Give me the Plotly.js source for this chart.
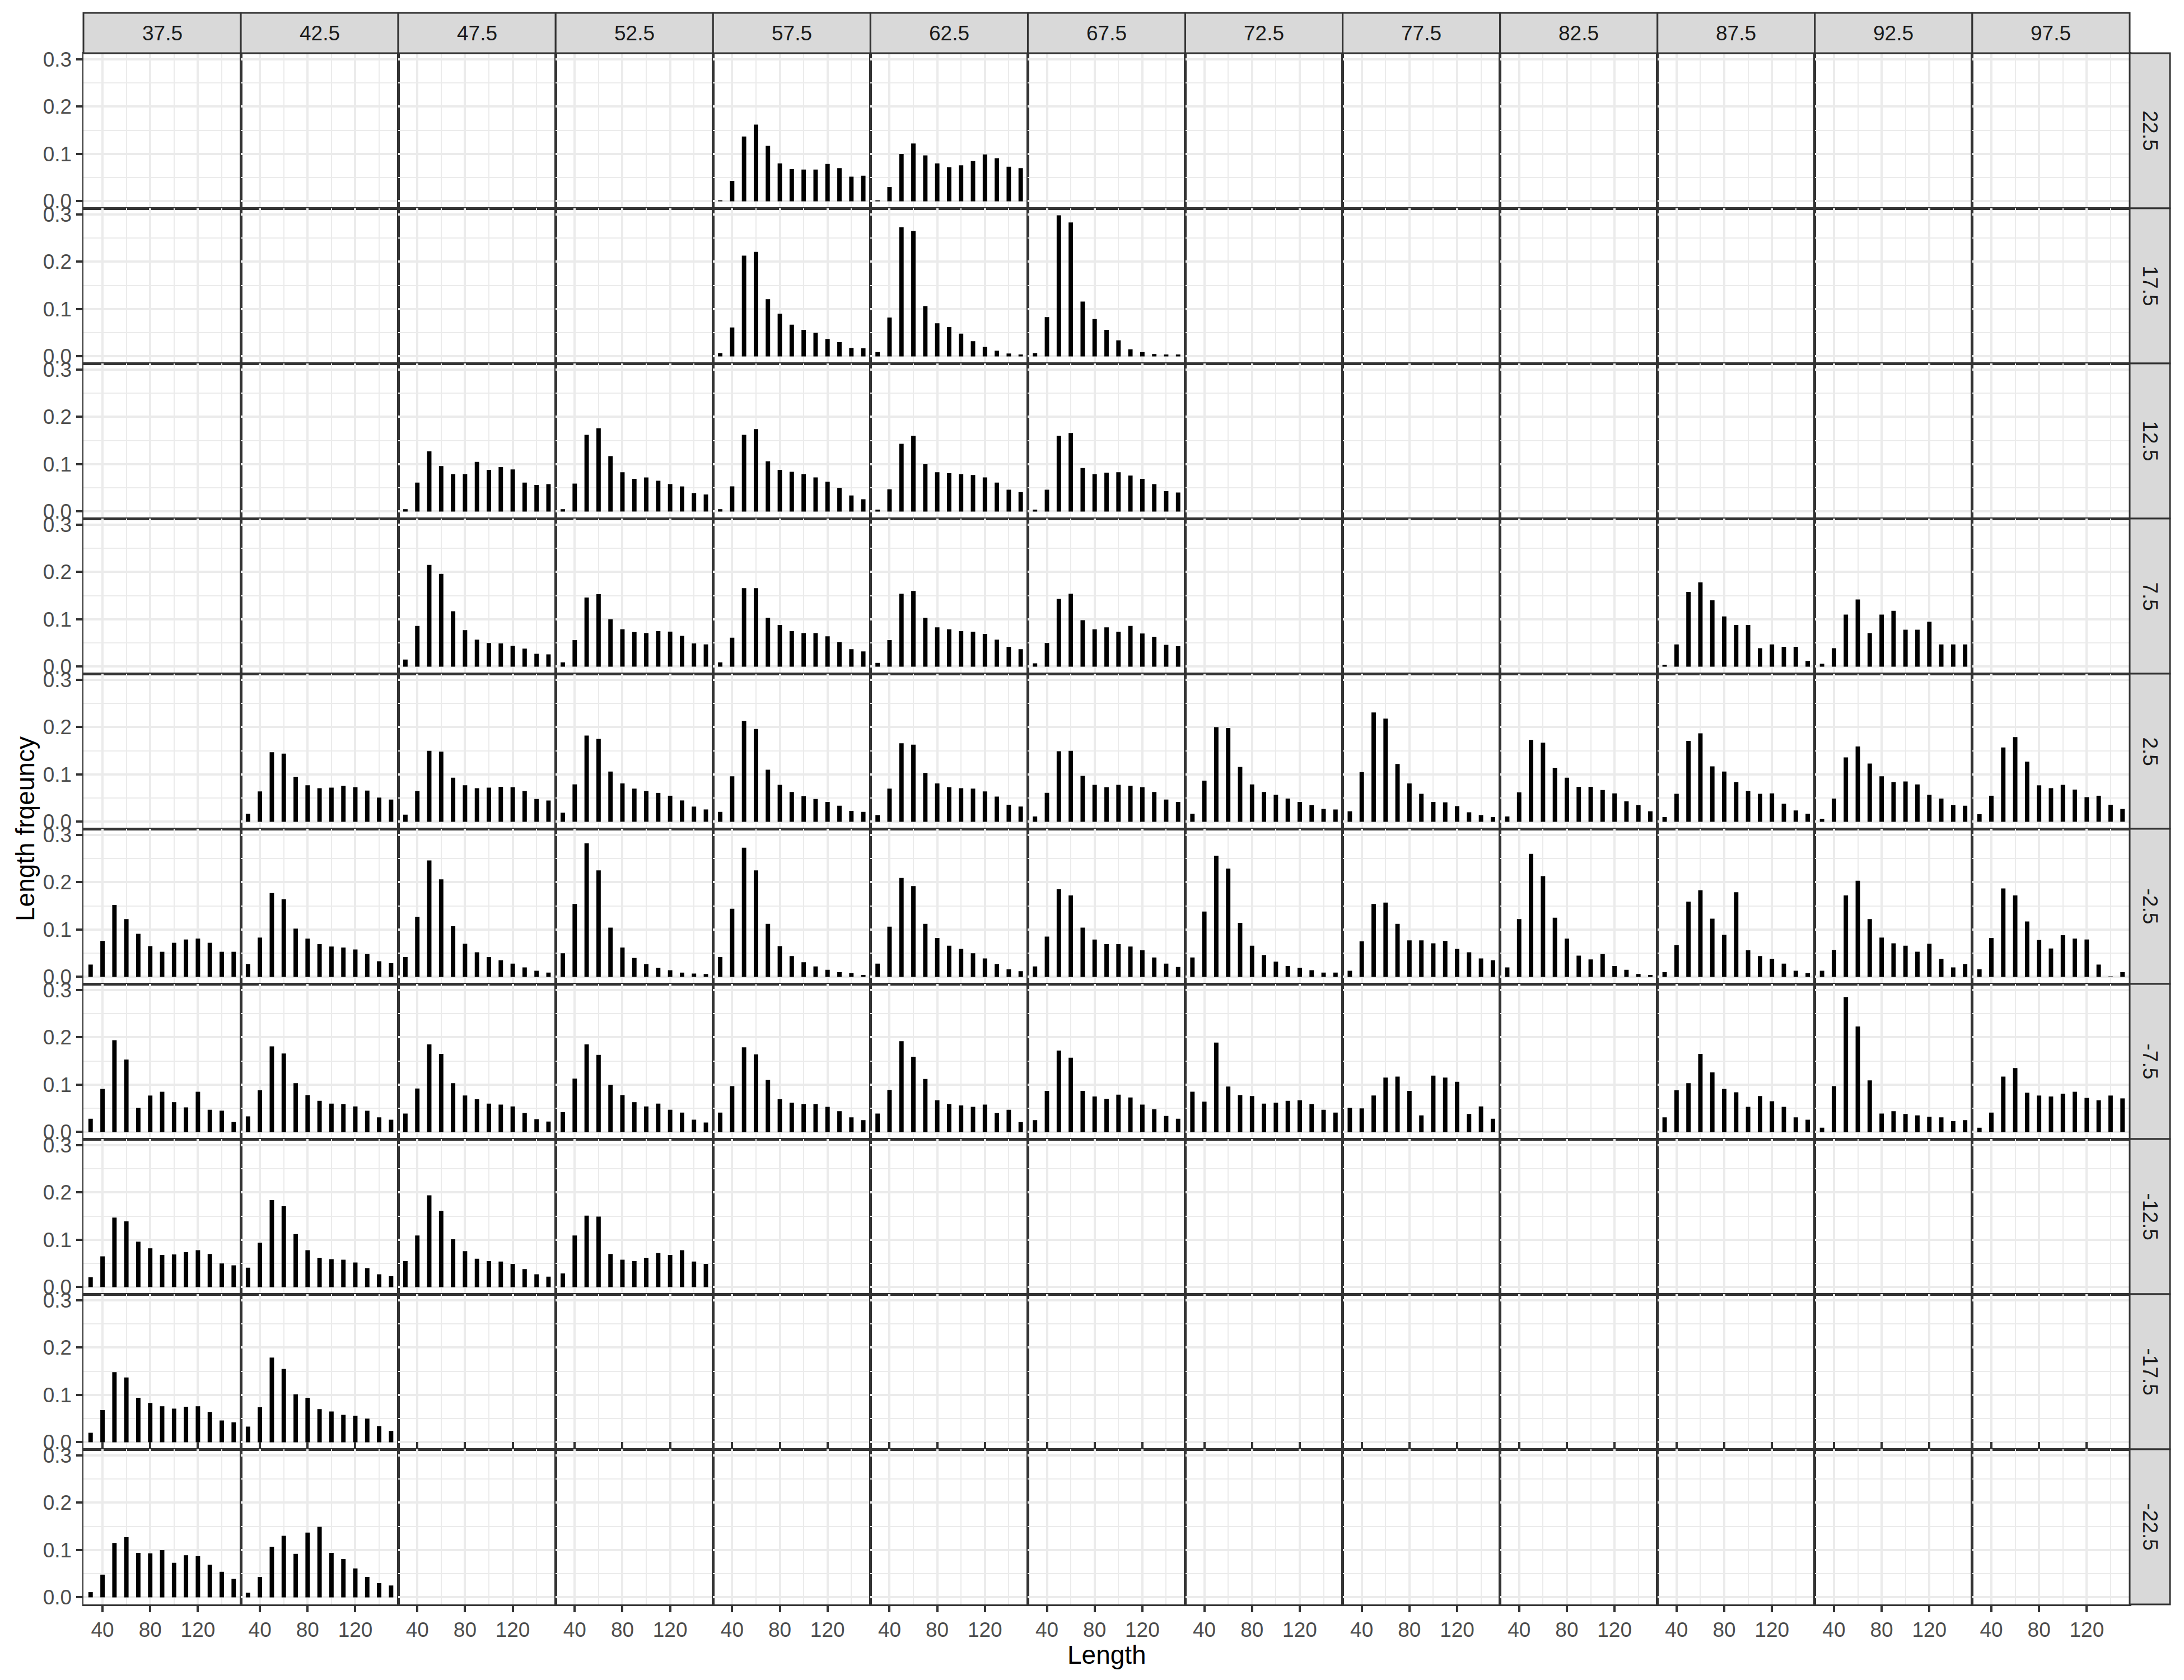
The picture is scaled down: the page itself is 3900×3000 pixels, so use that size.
<!DOCTYPE html>
<html>
<head>
<meta charset="utf-8">
<script src="https://cdn.plot.ly/plotly-3.0.1.min.js"></script>
<style>
html,body{margin:0;padding:0;background:#ffffff;}
#chart{width:3900px;height:3000px;}
</style>
</head>
<body>
<div id="chart"></div>
<script>
// ---------------- data ----------------
const lengths = [30, 40, 50, 60, 70, 80, 90, 100, 110, 120, 130, 140, 150];
const lonLabels = ["37.5","42.5","47.5","52.5","57.5","62.5","67.5","72.5","77.5","82.5","87.5","92.5","97.5"];
const latLabels = ["22.5","17.5","12.5","7.5","2.5","-2.5","-7.5","-12.5","-17.5","-22.5"];
const xTickVals = [40, 80, 120];
const yTickVals = [0, 0.1, 0.2, 0.3];

const lat22_5_lon = ["57.5","62.5"];
const lat22_5_freq = [
  [0.002,0.043,0.137,0.162,0.117,0.080,0.068,0.067,0.067,0.079,0.070,0.052,0.054],
  [0.002,0.030,0.100,0.122,0.097,0.080,0.072,0.076,0.085,0.099,0.091,0.073,0.070]
];

const lat17_5_lon = ["57.5","62.5","67.5"];
const lat17_5_freq = [
  [0.007,0.061,0.213,0.221,0.121,0.090,0.067,0.056,0.050,0.037,0.030,0.018,0.017],
  [0.009,0.082,0.273,0.265,0.106,0.070,0.062,0.048,0.032,0.020,0.012,0.006,0.004],
  [0.007,0.083,0.298,0.283,0.116,0.079,0.056,0.034,0.015,0.009,0.005,0.004,0.004]
];

const lat12_5_lon = ["47.5","52.5","57.5","62.5","67.5"];
const lat12_5_freq = [
  [0.005,0.061,0.127,0.096,0.079,0.079,0.105,0.088,0.094,0.089,0.061,0.056,0.058],
  [0.005,0.059,0.162,0.176,0.117,0.083,0.069,0.072,0.065,0.058,0.053,0.039,0.036],
  [0.005,0.053,0.162,0.174,0.106,0.088,0.084,0.079,0.072,0.063,0.050,0.034,0.026],
  [0.004,0.047,0.143,0.160,0.100,0.083,0.081,0.079,0.077,0.072,0.061,0.046,0.041],
  [0.004,0.046,0.160,0.166,0.092,0.079,0.082,0.083,0.076,0.069,0.058,0.043,0.040]
];

const lat7_5_lon = ["47.5","52.5","57.5","62.5","67.5","87.5","92.5"];
const lat7_5_freq = [
  [0.015,0.086,0.215,0.196,0.117,0.077,0.057,0.050,0.049,0.044,0.038,0.027,0.026],
  [0.009,0.056,0.146,0.153,0.100,0.079,0.073,0.071,0.075,0.074,0.065,0.049,0.047],
  [0.009,0.061,0.166,0.166,0.103,0.088,0.075,0.071,0.071,0.064,0.052,0.037,0.032],
  [0.008,0.056,0.154,0.160,0.103,0.083,0.079,0.075,0.074,0.069,0.057,0.042,0.037],
  [0.007,0.050,0.143,0.154,0.098,0.079,0.083,0.074,0.086,0.070,0.063,0.046,0.043],
  [0.004,0.047,0.158,0.178,0.140,0.106,0.088,0.088,0.039,0.047,0.042,0.042,0.012],
  [0.006,0.039,0.110,0.142,0.071,0.110,0.118,0.078,0.078,0.095,0.047,0.047,0.047]
];

const lat2_5_lon = ["42.5","47.5","52.5","57.5","62.5","67.5","72.5","77.5","82.5","87.5","92.5","97.5"];
const lat2_5_freq = [
  [0.017,0.064,0.147,0.144,0.095,0.077,0.071,0.072,0.076,0.073,0.066,0.051,0.047],
  [0.015,0.065,0.150,0.148,0.093,0.077,0.071,0.072,0.074,0.073,0.065,0.048,0.045],
  [0.019,0.079,0.182,0.175,0.106,0.081,0.070,0.065,0.061,0.055,0.045,0.032,0.026],
  [0.021,0.096,0.213,0.196,0.110,0.078,0.063,0.054,0.048,0.042,0.034,0.023,0.021],
  [0.014,0.070,0.166,0.163,0.103,0.081,0.073,0.071,0.070,0.064,0.053,0.036,0.032],
  [0.011,0.061,0.149,0.150,0.097,0.078,0.073,0.078,0.076,0.073,0.063,0.047,0.042],
  [0.017,0.087,0.200,0.198,0.116,0.079,0.063,0.057,0.049,0.042,0.035,0.027,0.026],
  [0.022,0.105,0.231,0.218,0.122,0.081,0.059,0.042,0.041,0.033,0.020,0.014,0.010],
  [0.011,0.062,0.173,0.167,0.114,0.093,0.074,0.074,0.067,0.060,0.043,0.035,0.022],
  [0.010,0.059,0.171,0.187,0.117,0.106,0.084,0.065,0.059,0.060,0.038,0.024,0.017],
  [0.006,0.049,0.136,0.159,0.123,0.096,0.084,0.085,0.079,0.057,0.049,0.035,0.034],
  [0.016,0.055,0.157,0.179,0.127,0.077,0.071,0.078,0.068,0.052,0.055,0.036,0.027]
];

const latm2_5_lon = ["37.5","42.5","47.5","52.5","57.5","62.5","67.5","72.5","77.5","82.5","87.5","92.5","97.5"];
const latm2_5_freq = [
  [0.026,0.076,0.152,0.122,0.091,0.065,0.053,0.072,0.079,0.081,0.072,0.053,0.053],
  [0.027,0.083,0.177,0.164,0.102,0.081,0.069,0.064,0.062,0.058,0.048,0.033,0.029],
  [0.042,0.127,0.246,0.206,0.107,0.070,0.052,0.042,0.035,0.028,0.020,0.013,0.009],
  [0.050,0.154,0.282,0.225,0.104,0.062,0.040,0.027,0.019,0.014,0.009,0.007,0.006],
  [0.042,0.144,0.273,0.225,0.112,0.065,0.044,0.031,0.022,0.015,0.010,0.008,0.004],
  [0.028,0.106,0.209,0.192,0.112,0.082,0.066,0.059,0.050,0.039,0.027,0.016,0.012],
  [0.022,0.085,0.185,0.172,0.104,0.079,0.069,0.069,0.064,0.056,0.041,0.028,0.021],
  [0.041,0.138,0.256,0.229,0.114,0.066,0.046,0.032,0.023,0.019,0.014,0.009,0.009],
  [0.013,0.075,0.154,0.157,0.112,0.077,0.077,0.071,0.076,0.059,0.052,0.039,0.035],
  [0.020,0.122,0.260,0.213,0.125,0.081,0.045,0.037,0.048,0.023,0.015,0.006,0.004],
  [0.010,0.067,0.159,0.183,0.123,0.089,0.179,0.056,0.044,0.038,0.028,0.013,0.008],
  [0.013,0.057,0.172,0.203,0.122,0.083,0.071,0.066,0.053,0.070,0.038,0.020,0.027],
  [0.016,0.082,0.187,0.172,0.117,0.078,0.060,0.088,0.081,0.079,0.026,0.001,0.010]
];

const latm7_5_lon = ["37.5","42.5","47.5","52.5","57.5","62.5","67.5","72.5","77.5","87.5","92.5","97.5"];
const latm7_5_freq = [
  [0.028,0.091,0.194,0.153,0.051,0.077,0.085,0.063,0.052,0.085,0.047,0.045,0.021],
  [0.033,0.088,0.181,0.166,0.103,0.078,0.066,0.060,0.059,0.054,0.045,0.031,0.026],
  [0.039,0.092,0.185,0.165,0.103,0.077,0.069,0.060,0.058,0.054,0.040,0.027,0.022],
  [0.042,0.113,0.185,0.163,0.100,0.078,0.063,0.054,0.060,0.047,0.041,0.026,0.020],
  [0.041,0.097,0.179,0.164,0.110,0.069,0.062,0.059,0.059,0.053,0.044,0.031,0.025],
  [0.039,0.089,0.192,0.159,0.112,0.067,0.059,0.056,0.053,0.058,0.040,0.047,0.021],
  [0.025,0.087,0.172,0.157,0.087,0.075,0.070,0.079,0.073,0.058,0.048,0.034,0.028],
  [0.085,0.064,0.189,0.096,0.078,0.076,0.060,0.062,0.066,0.067,0.059,0.047,0.041],
  [0.051,0.050,0.077,0.115,0.117,0.087,0.035,0.119,0.115,0.106,0.038,0.054,0.028],
  [0.031,0.088,0.103,0.165,0.126,0.091,0.084,0.053,0.076,0.065,0.053,0.031,0.026],
  [0.009,0.097,0.285,0.223,0.109,0.039,0.044,0.038,0.035,0.032,0.031,0.023,0.025],
  [0.009,0.041,0.117,0.135,0.083,0.077,0.075,0.081,0.085,0.072,0.067,0.077,0.071]
];

const latm12_5_lon = ["37.5","42.5","47.5","52.5"];
const latm12_5_freq = [
  [0.021,0.065,0.147,0.139,0.096,0.082,0.068,0.069,0.074,0.078,0.070,0.050,0.046],
  [0.041,0.094,0.184,0.171,0.112,0.078,0.062,0.059,0.058,0.052,0.040,0.027,0.023],
  [0.055,0.109,0.194,0.161,0.101,0.076,0.060,0.055,0.054,0.049,0.038,0.027,0.022],
  [0.029,0.109,0.151,0.149,0.070,0.058,0.055,0.062,0.072,0.068,0.078,0.054,0.049]
];

const latm17_5_lon = ["37.5","42.5"];
const latm17_5_freq = [
  [0.020,0.068,0.148,0.137,0.094,0.083,0.076,0.071,0.075,0.076,0.064,0.046,0.042],
  [0.033,0.074,0.179,0.155,0.101,0.094,0.070,0.065,0.058,0.056,0.050,0.034,0.024]
];

const latm22_5_lon = ["37.5","42.5"];
const latm22_5_freq = [
  [0.011,0.048,0.115,0.127,0.094,0.093,0.100,0.073,0.089,0.087,0.069,0.054,0.039],
  [0.010,0.043,0.107,0.130,0.092,0.137,0.149,0.094,0.081,0.061,0.043,0.030,0.025]
];

// ---------------- build ----------------
const rowLon  = [lat22_5_lon, lat17_5_lon, lat12_5_lon, lat7_5_lon, lat2_5_lon, latm2_5_lon, latm7_5_lon, latm12_5_lon, latm17_5_lon, latm22_5_lon];
const rowFreq = [lat22_5_freq, lat17_5_freq, lat12_5_freq, lat7_5_freq, lat2_5_freq, latm2_5_freq, latm7_5_freq, latm12_5_freq, latm17_5_freq, latm22_5_freq];

const W = 3900, H = 3000;
const PL = 149, PR = 3803, PT = 95, PB = 2865;
const PW = PR - PL, PH = PB - PT;
const NC = lonLabels.length, NR = latLabels.length;
const STRIP = 72;
const FONT = "Liberation Sans, Arial, Helvetica, sans-serif";
const axName = (p, i) => p + (i === 0 ? "" : (i + 1));

const traces = [];
const used = {};
for (let r = 0; r < NR; r++) {
  rowLon[r].forEach((lon, k) => {
    const c = lonLabels.indexOf(lon);
    used[r + "_" + c] = true;
    traces.push({
      type: "bar", x: lengths, y: rowFreq[r][k],
      xaxis: axName("x", c), yaxis: axName("y", r),
      width: 3.7, marker: {color: "#000000", line: {width: 0}},
      showlegend: false, hoverinfo: "skip"
    });
  });
}
// empty panels still need their own subplot (grid + border)
for (let r = 0; r < NR; r++) {
  for (let c = 0; c < NC; c++) {
    if (!used[r + "_" + c]) {
      traces.push({type: "scatter", mode: "markers", x: [], y: [],
        xaxis: axName("x", c), yaxis: axName("y", r), showlegend: false, hoverinfo: "skip"});
    }
  }
}

const layout = {
  width: W, height: H,
  margin: {l: PL, r: W - PR, t: PT, b: H - PB, pad: 0},
  paper_bgcolor: "#ffffff", plot_bgcolor: "#ffffff",
  showlegend: false,
  font: {family: FONT, color: "#4D4D4D", size: 37},
  shapes: [], annotations: []
};

const BORDER = 2.5;
for (let c = 0; c < NC; c++) {
  layout[axName("xaxis", c)] = {
    domain: [c / NC, (c + 1) / NC],
    anchor: axName("y", NR - 1),
    range: [24, 156], autorange: false, fixedrange: true,
    tickmode: "array", tickvals: xTickVals, ticktext: xTickVals.map(String),
    ticks: "outside", ticklen: 11, tickwidth: 4, tickcolor: "#333333",
    tickfont: {family: FONT, size: 37, color: "#4D4D4D"},
    showgrid: true, gridcolor: "#EBEBEB", gridwidth: 4,
    minor: {tickmode: "linear", tick0: 0, dtick: 20, showgrid: true, gridcolor: "#EBEBEB", gridwidth: 2, ticks: ""},
    zeroline: false,
    showline: true, mirror: "all", linecolor: "#333333", linewidth: BORDER
  };
}
for (let r = 0; r < NR; r++) {
  layout[axName("yaxis", r)] = {
    domain: [1 - (r + 1) / NR, 1 - r / NR],
    anchor: "x",
    range: [-0.0149, 0.3129], autorange: false, fixedrange: true,
    tickmode: "array", tickvals: yTickVals, ticktext: yTickVals.map(v => v.toFixed(1)),
    ticks: "outside", ticklen: 11, tickwidth: 4, tickcolor: "#333333",
    tickfont: {family: FONT, size: 37, color: "#4D4D4D"},
    showgrid: true, gridcolor: "#EBEBEB", gridwidth: 4,
    minor: {tickmode: "linear", tick0: 0, dtick: 0.05, showgrid: true, gridcolor: "#EBEBEB", gridwidth: 2, ticks: ""},
    zeroline: false,
    showline: true, mirror: "all", linecolor: "#333333", linewidth: BORDER
  };
}

// facet strips (top: longitude columns, right: latitude rows)
const sy = STRIP / PH, sx = STRIP / PW;
for (let c = 0; c < NC; c++) {
  layout.shapes.push({type: "rect", xref: "paper", yref: "paper",
    x0: c / NC, x1: (c + 1) / NC, y0: 1, y1: 1 + sy,
    fillcolor: "#D9D9D9", line: {color: "#333333", width: 3}, layer: "above"});
  layout.annotations.push({xref: "paper", yref: "paper", x: (c + 0.5) / NC, y: 1 + sy / 2,
    xanchor: "center", yanchor: "middle", showarrow: false, text: lonLabels[c],
    font: {family: FONT, size: 37, color: "#1A1A1A"}});
}
for (let r = 0; r < NR; r++) {
  layout.shapes.push({type: "rect", xref: "paper", yref: "paper",
    x0: 1, x1: 1 + sx, y0: 1 - (r + 1) / NR, y1: 1 - r / NR,
    fillcolor: "#D9D9D9", line: {color: "#333333", width: 3}, layer: "above"});
  layout.annotations.push({xref: "paper", yref: "paper", x: 1 + sx / 2, y: 1 - (r + 0.5) / NR,
    xanchor: "center", yanchor: "middle", showarrow: false, text: latLabels[r], textangle: 90,
    font: {family: FONT, size: 37, color: "#1A1A1A"}});
}

// axis titles
layout.annotations.push({xref: "paper", yref: "paper", x: 0.5, y: (PB - 2955) / PH,
  xanchor: "center", yanchor: "middle", showarrow: false, text: "Length",
  font: {family: FONT, size: 46, color: "#000000"}});
layout.annotations.push({xref: "paper", yref: "paper", x: (45 - PL) / PW, y: 0.5,
  xanchor: "center", yanchor: "middle", showarrow: false, text: "Length frqeuncy", textangle: -90,
  font: {family: FONT, size: 46, color: "#000000"}});

Plotly.newPlot("chart", traces, layout, {staticPlot: true, displayModeBar: false});
</script>
</body>
</html>
